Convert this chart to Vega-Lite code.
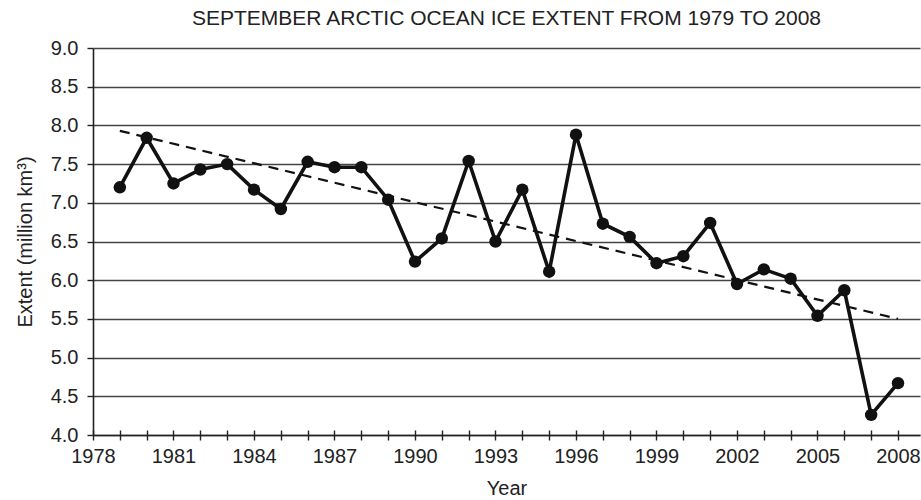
{
  "$schema": "https://vega.github.io/schema/vega-lite/v6.json",
  "autosize": {"type": "none"},
  "padding": {"left": 93, "top": 48, "right": 1, "bottom": 65},
  "width": 827,
  "height": 387,
  "background": "white",
  "title": {
    "text": "SEPTEMBER ARCTIC OCEAN ICE EXTENT FROM 1979 TO 2008",
    "font": "Liberation Sans",
    "fontSize": 21,
    "fontWeight": "normal",
    "color": "#222",
    "anchor": "middle",
    "offset": 9
  },
  "config": {
    "view": {"stroke": null},
    "axis": {
      "labelFont": "Liberation Sans",
      "labelFontSize": 20,
      "labelColor": "#222",
      "titleFont": "Liberation Sans",
      "titleFontSize": 20,
      "titleFontWeight": "normal",
      "titleColor": "#222",
      "tickColor": "#222",
      "tickWidth": 1.4,
      "domainColor": "#222",
      "domainWidth": 1.6,
      "labelOverlap": false,
      "labelFlush": false
    }
  },
  "datasets": {
    "ice": [
      {"year": 1979, "extent": 7.20},
      {"year": 1980, "extent": 7.84},
      {"year": 1981, "extent": 7.25},
      {"year": 1982, "extent": 7.43},
      {"year": 1983, "extent": 7.50},
      {"year": 1984, "extent": 7.17},
      {"year": 1985, "extent": 6.92},
      {"year": 1986, "extent": 7.53},
      {"year": 1987, "extent": 7.46},
      {"year": 1988, "extent": 7.46},
      {"year": 1989, "extent": 7.04},
      {"year": 1990, "extent": 6.24},
      {"year": 1991, "extent": 6.54},
      {"year": 1992, "extent": 7.54},
      {"year": 1993, "extent": 6.50},
      {"year": 1994, "extent": 7.17},
      {"year": 1995, "extent": 6.11},
      {"year": 1996, "extent": 7.88},
      {"year": 1997, "extent": 6.73},
      {"year": 1998, "extent": 6.56},
      {"year": 1999, "extent": 6.22},
      {"year": 2000, "extent": 6.31},
      {"year": 2001, "extent": 6.74},
      {"year": 2002, "extent": 5.95},
      {"year": 2003, "extent": 6.14},
      {"year": 2004, "extent": 6.02},
      {"year": 2005, "extent": 5.54},
      {"year": 2006, "extent": 5.87},
      {"year": 2007, "extent": 4.26},
      {"year": 2008, "extent": 4.67}
    ],
    "trend": [
      {"year": 1979, "extent": 7.93},
      {"year": 2008, "extent": 5.50}
    ]
  },
  "encoding": {
    "y": {
      "field": "extent",
      "type": "quantitative",
      "title": "Extent (million km³)",
      "scale": {"domain": [4, 9], "nice": false, "zero": false},
      "axis": {
        "values": [4, 4.5, 5, 5.5, 6, 6.5, 7, 7.5, 8, 8.5, 9],
        "format": ".1f",
        "grid": true,
        "gridColor": "#444",
        "gridWidth": 1.6,
        "gridOpacity": 1,
        "tickSize": 6,
        "labelPadding": 9,
        "titlePadding": 15
      }
    }
  },
  "resolve": {"axis": {"x": "independent"}},
  "layer": [
    {
      "data": {"name": "trend"},
      "mark": {"type": "line", "color": "#111", "strokeWidth": 2.2, "strokeDash": [10, 7]},
      "encoding": {
        "x": {
          "field": "year",
          "type": "quantitative",
          "title": "Year",
          "scale": {"domain": [1978, 2008.82], "nice": false, "zero": false},
          "axis": {
            "orient": "bottom",
            "values": [1978, 1979, 1980, 1981, 1982, 1983, 1984, 1985, 1986, 1987, 1988, 1989, 1990, 1991, 1992, 1993, 1994, 1995, 1996, 1997, 1998, 1999, 2000, 2001, 2002, 2003, 2004, 2005, 2006, 2007, 2008],
            "format": "d",
            "labelExpr": "(datum.value - 1978) % 3 == 0 ? datum.label : ''",
            "grid": false,
            "tickSize": 5,
            "labelPadding": 6,
            "titlePadding": 12
          }
        }
      }
    },
    {
      "data": {"name": "ice"},
      "mark": {"type": "line", "color": "#111", "strokeWidth": 3.6, "point": {"filled": true, "color": "#111", "size": 155, "opacity": 1}},
      "encoding": {
        "x": {
          "field": "year",
          "type": "quantitative",
          "axis": {
            "orient": "bottom",
            "values": [1978, 1979, 1980, 1981, 1982, 1983, 1984, 1985, 1986, 1987, 1988, 1989, 1990, 1991, 1992, 1993, 1994, 1995, 1996, 1997, 1998, 1999, 2000, 2001, 2002, 2003, 2004, 2005, 2006, 2007, 2008],
            "labels": false,
            "title": null,
            "domain": false,
            "grid": false,
            "tickSize": -5
          }
        }
      }
    }
  ]
}
